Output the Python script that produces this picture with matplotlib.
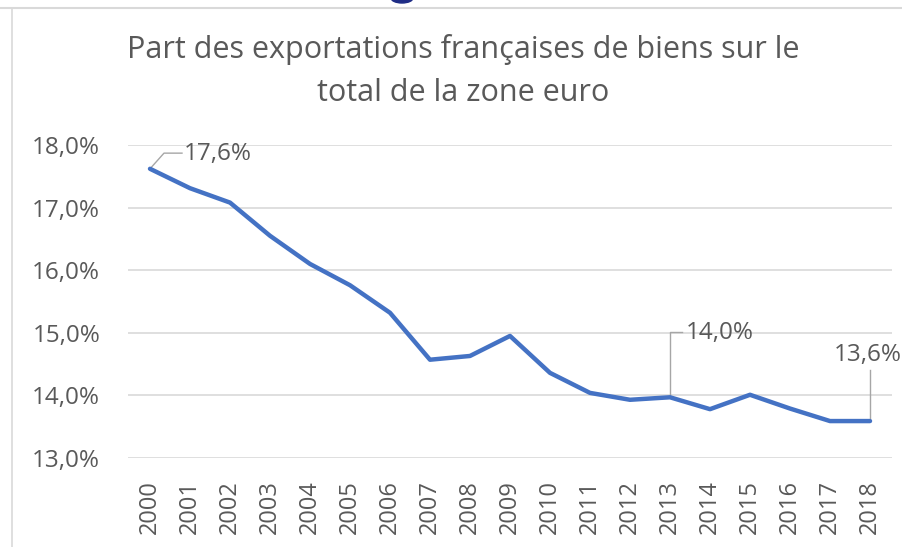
import matplotlib.pyplot as plt
from matplotlib.ticker import FuncFormatter, MultipleLocator
from matplotlib.lines import Line2D
from matplotlib.patches import Ellipse

# Data
years = [str(y) for y in range(2000, 2019)]
share = [17.62, 17.31, 17.08, 16.55, 16.10, 15.76, 15.32, 14.57, 14.63, 14.95,
         14.36, 14.04, 13.93, 13.97, 13.78, 14.01, 13.79, 13.59, 13.59]
labelled = {0: "17,6%", 13: "14,0%", 18: "13,6%"}

title = "Part des exportations françaises de biens sur le\ntotal de la zone euro"

grey = "#595959"
blue = "#4472C4"

plt.rcParams['font.family'] = ['Open Sans', 'DejaVu Sans']

fig = plt.figure(figsize=(9.03, 5.47), dpi=100)
ax = fig.add_axes([128 / 903, 1 - 458 / 547, (892 - 128) / 903, (458 - 145) / 547])

x = list(range(len(years)))
ax.plot(x, share, color=blue, linewidth=3.2, solid_capstyle='round', zorder=3)

ax.set_xlim(-0.55, len(years) - 0.45)
ax.set_ylim(13, 18)
ax.yaxis.set_major_locator(MultipleLocator(1))
ax.yaxis.set_major_formatter(FuncFormatter(lambda v, p: f"{v:.1f}%".replace(".", ",")))
ax.set_xticks(x)
ax.set_xticklabels(years, rotation=90)
ax.tick_params(axis='y', length=0, labelsize=17.5, colors=grey, pad=20)
ax.tick_params(axis='x', length=0, labelsize=17, colors=grey, pad=16)
ax.grid(axis='y', color="#d9d9d9", linewidth=1.2)
ax.set_axisbelow(True)
for s in ax.spines.values():
    s.set_visible(False)

# data labels with leader lines
lc = "#a6a6a6"
ax.plot([0, 0.35, 0.8], [share[0], 17.87, 17.87], color=lc, lw=1, zorder=2, clip_on=False)
ax.text(0.85, 17.85, labelled[0], color=grey, fontsize=17.5, va='center', ha='left')
ax.plot([13, 13, 13.3], [share[13], 15.02, 15.02], color=lc, lw=1, zorder=2, clip_on=False)
ax.text(13.4, 15.0, labelled[13], color=grey, fontsize=17.5, va='center', ha='left')
ax.plot([18, 18], [share[18], 14.4], color=lc, lw=1, zorder=2, clip_on=False)
ax.text(17.1, 14.65, labelled[18], color=grey, fontsize=17.5, va='center', ha='left', clip_on=False)

fig.text(463 / 903, 1 - 71 / 547, title, ha='center', va='center', color=grey,
         fontsize=22, linespacing=1.55)

# frame of the pasted chart and the cut-off heading glyph above it
fig.add_artist(Line2D([0, 1], [1 - 8 / 547] * 2, color="#d9d9d9", lw=1.5))
fig.add_artist(Line2D([12 / 903] * 2, [0, 1 - 8 / 547], color="#d9d9d9", lw=1.2))
fig.add_artist(Ellipse((402 / 903, 1 + 2 / 547), 22 / 903, 10 / 547, color="#1f2d86"))

plt.savefig("out.png", dpi=100)
